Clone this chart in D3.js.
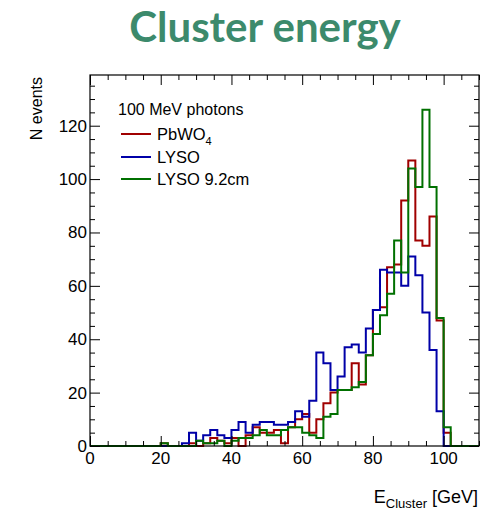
<!DOCTYPE html>
<html>
<head>
<meta charset="utf-8">
<script src="https://cdn.jsdelivr.net/npm/d3@7"></script>
<style>
  html, body { margin: 0; padding: 0; background: #fff; }
  svg { display: block; }
  text { font-family: "Liberation Sans", Arial, Helvetica, sans-serif; fill: #000; }
</style>
</head>
<body>
<svg id="chart" width="486" height="512"></svg>
<script>
// Histogram binning: 2 GeV bins from 0 to 110 GeV
const binWidth = 2;
const binEdges = d3.range(0, 110 + binWidth, binWidth);

// Counts per bin (55 bins)
const pbwo4 = [
  0,0,0,0,0,0,0,0,0,0, 1,0,0,0,1,0,1,3,2,1,
  3,0,4,7,5,5,6,1,7,10, 12,5,10,16,20,21,21,31,23,34,
  51,52,67,68,92,107,77,75,86,47, 5,0,0,0,0
];
const lyso = [
  0,0,0,0,0,0,0,0,0,0, 0,0,0,1,5,2,4,6,4,3,
  6,9,5,8,9,9,8,8,9,13, 11,17,35,31,21,26,37,38,35,44,
  51,66,65,65,60,71,64,50,36,13, 0,0,0,0,0
];
const lyso92 = [
  0,0,0,0,0,0,0,0,0,0, 1,0,0,0,0,2,1,1,2,0,
  2,3,3,4,6,4,4,6,7,7, 5,4,3,11,12,21,21,22,24,34,
  42,49,57,77,65,104,97,126,97,48, 7,0,0,0,0
];

const seriesNames = ["PbWO4", "LYSO", "LYSO 9.2cm"];
const seriesColors = ["#a00000", "#0000a8", "#007000"];
const seriesData = [pbwo4, lyso, lyso92];

const xTickValues = [0, 20, 40, 60, 80, 100];
const yTickValues = [0, 20, 40, 60, 80, 100, 120];

const titleText = "Cluster energy";
const legendHeader = "100 MeV photons";

const svg = d3.select("#chart");
const frame = { left: 90, right: 479, top: 75, bottom: 446 };

const x = d3.scaleLinear().domain([0, 110]).range([frame.left, frame.right]);
const y = d3.scaleLinear().domain([0, 139]).range([frame.bottom, frame.top]);

// Title
svg.append("text")
  .attr("x", 265).attr("y", 42)
  .attr("text-anchor", "middle")
  .style("font-family", "Lato, 'Open Sans', sans-serif")
  .style("font-weight", "700")
  .style("font-size", "42px")
  .style("fill", "#3c8a6c")
  .text(titleText);

// Histograms as step outlines
const line = d3.line()
  .x(d => x(d[0]))
  .y(d => y(d[1]))
  .curve(d3.curveStepAfter);

seriesData.forEach((vals, i) => {
  const pts = vals.map((v, k) => [binEdges[k], v]);
  pts.push([binEdges[vals.length], vals[vals.length - 1]]);
  svg.append("path")
    .attr("d", line(pts))
    .attr("fill", "none")
    .attr("stroke", seriesColors[i])
    .attr("stroke-width", 2)
    .attr("stroke-linejoin", "miter");
});

// Axes: ticks pointing inward on all four sides
const xMinor = d3.range(0, 111, 5);
const yMinor = d3.range(0, 140, 5);

const gx = svg.append("g").attr("transform", `translate(0,${frame.bottom})`);
gx.call(d3.axisTop(x).tickValues(xMinor).tickSize(0).tickFormat(""));
gx.selectAll(".tick line")
  .attr("y2", d => xTickValues.includes(d) ? -10 : -5)
  .attr("stroke", "#000");

const gxTop = svg.append("g").attr("transform", `translate(0,${frame.top})`);
gxTop.call(d3.axisBottom(x).tickValues(xMinor).tickSize(0).tickFormat(""));
gxTop.selectAll(".tick line")
  .attr("y2", d => xTickValues.includes(d) ? 10 : 5)
  .attr("stroke", "#000");

const gy = svg.append("g").attr("transform", `translate(${frame.left},0)`);
gy.call(d3.axisRight(y).tickValues(yMinor).tickSize(0).tickFormat(""));
gy.selectAll(".tick line")
  .attr("x2", d => yTickValues.includes(d) ? 10 : 5)
  .attr("stroke", "#000");

const gyRight = svg.append("g").attr("transform", `translate(${frame.right},0)`);
gyRight.call(d3.axisLeft(y).tickValues(yMinor).tickSize(0).tickFormat(""));
gyRight.selectAll(".tick line")
  .attr("x2", d => yTickValues.includes(d) ? -10 : -5)
  .attr("stroke", "#000");

[gx, gxTop, gy, gyRight].forEach(g => g.select(".domain").remove());

// Frame
svg.append("rect")
  .attr("x", frame.left).attr("y", frame.top)
  .attr("width", frame.right - frame.left)
  .attr("height", frame.bottom - frame.top)
  .attr("fill", "none").attr("stroke", "#000").attr("stroke-width", 1.2);

// Tick labels
svg.selectAll("text.xlab").data(xTickValues).join("text")
  .attr("class", "xlab")
  .attr("x", d => x(d)).attr("y", frame.bottom + 18)
  .attr("text-anchor", "middle")
  .style("font-size", "17px")
  .text(d => d);

svg.selectAll("text.ylab").data(yTickValues).join("text")
  .attr("class", "ylab")
  .attr("x", frame.left - 3).attr("y", d => y(d) + 6)
  .attr("text-anchor", "end")
  .style("font-size", "17px")
  .text(d => d);

// Axis titles
svg.append("text")
  .attr("transform", "translate(42,77) rotate(-90)")
  .attr("text-anchor", "end")
  .style("font-size", "16px")
  .text("N events");

const xTitle = svg.append("text")
  .attr("x", 478).attr("y", 503)
  .attr("text-anchor", "end")
  .style("font-size", "18px");
xTitle.append("tspan").text("E");
xTitle.append("tspan").attr("dy", 5).style("font-size", "13px").text("Cluster");
xTitle.append("tspan").attr("dy", -5).text(" [GeV]");

// Legend
svg.append("text")
  .attr("x", 118).attr("y", 115)
  .style("font-size", "16px")
  .text(legendHeader);

const legendRows = [134, 157, 179];
seriesNames.forEach((name, i) => {
  const ly = legendRows[i];
  svg.append("line")
    .attr("x1", 121).attr("x2", 151)
    .attr("y1", ly).attr("y2", ly)
    .attr("stroke", seriesColors[i]).attr("stroke-width", 2);
  const t = svg.append("text")
    .attr("x", 157).attr("y", ly + 6)
    .style("font-size", "16.5px");
  if (name === "PbWO4") {
    t.append("tspan").text("PbWO");
    t.append("tspan").attr("dy", 5).style("font-size", "11px").text("4");
  } else {
    t.text(name);
  }
});
</script>
</body>
</html>
